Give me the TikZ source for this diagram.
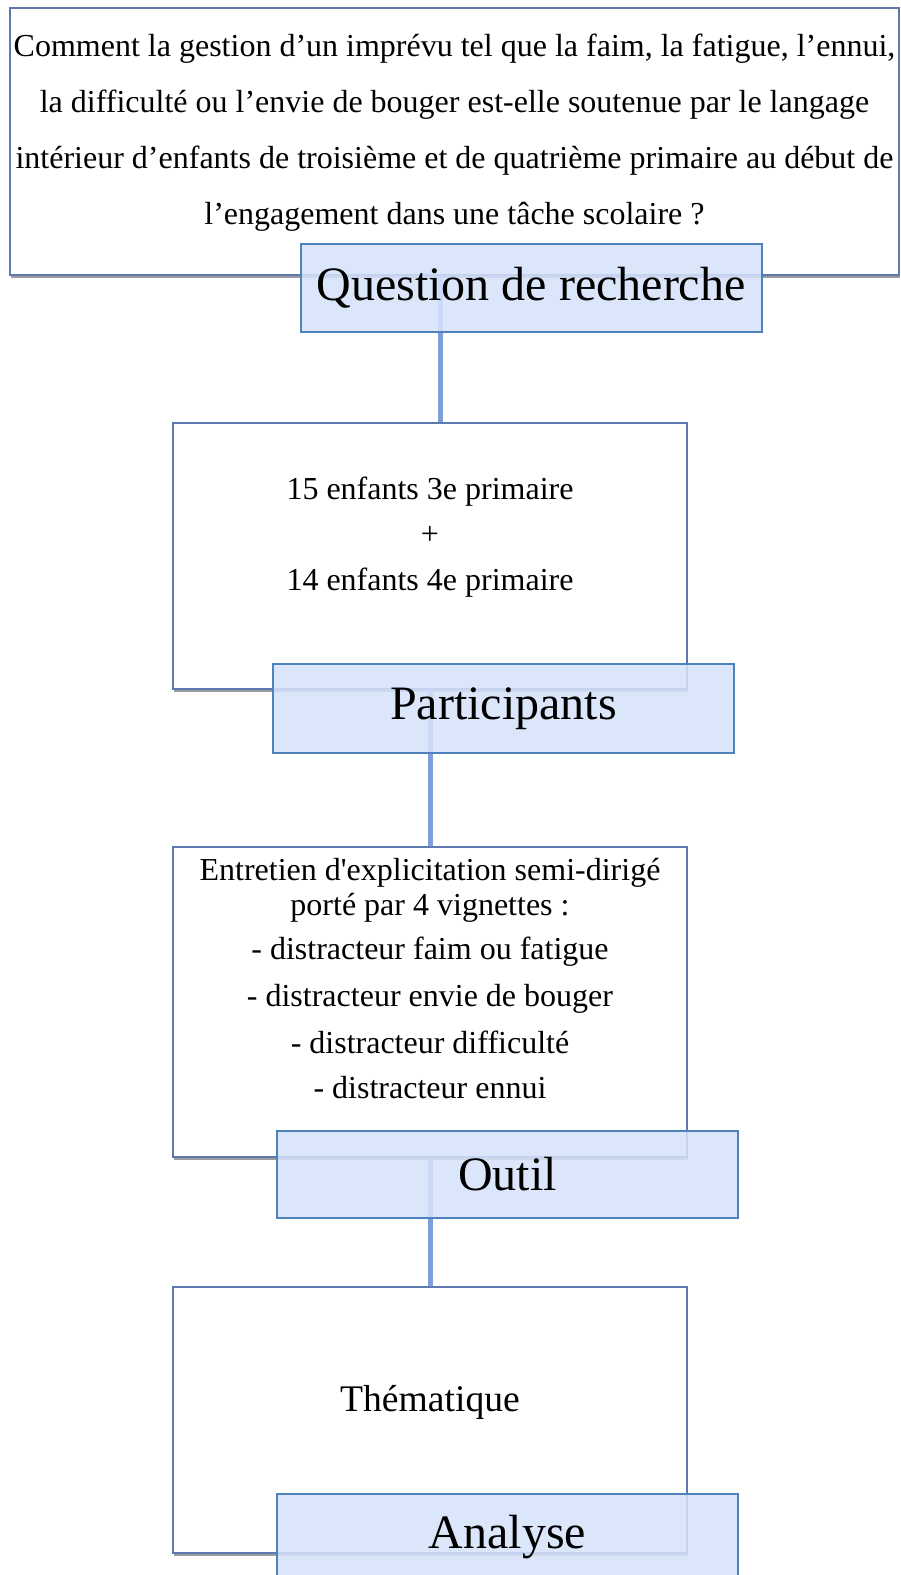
\documentclass[tikz,border=0pt]{standalone}
\usepackage{fontspec}
\newfontfamily\bodyfont{Liberation Serif}
\usetikzlibrary{shadows}
\definecolor{framecol}{RGB}{92,122,176}
\definecolor{tabfill}{RGB}{214,227,251}
\definecolor{tabdraw}{RGB}{79,129,189}
\definecolor{linkcol}{RGB}{126,160,218}
\begin{document}
\begin{tikzpicture}[x=0.5pt,y=-0.5pt,
  panel/.style={draw=framecol, line width=1.1pt, fill=white, inner sep=0pt,
    minimum width=257pt,
    drop shadow={shadow xshift=0.6pt, shadow yshift=-1.6pt, opacity=0.55, fill=black!70}},
  tab/.style={draw=tabdraw, line width=1pt, fill=tabfill, fill opacity=0.86, text opacity=1,
    minimum width=230.5pt, minimum height=44pt, inner sep=0pt,
    font=\bodyfont\fontsize{24}{28}\selectfont},
  txt/.style={inner sep=0pt, align=center},
  link/.style={draw=linkcol, line width=2.5pt}]
\useasboundingbox (0,0) rectangle (900,1575);
\fill[white] (0,0) rectangle (900,1575);

% frames
\node[panel, minimum width=444.5pt, minimum height=133.5pt] (qbox) at (454.5,141.5) {};
\node[panel, minimum height=133pt] (partbox) at (430,556) {};
\node[panel, minimum height=155pt] (toolbox) at (430,1002) {};
\node[panel, minimum height=133pt] (anabox) at (430,1420) {};

% frame contents
\node[txt, font=\bodyfont\fontsize{16}{28}\selectfont] (qtext) at (454.5,133)
  {Comment la gestion d’un imprévu tel que la faim, la fatigue, l’ennui,\\
   la difficulté ou l’envie de bouger est-elle soutenue par le langage\\
   intérieur d’enfants de troisième et de quatrième primaire au début de\\
   l’engagement dans une tâche scolaire ?};
\node[txt, font=\bodyfont\fontsize{16}{22.75}\selectfont] (parttext) at (430,537)
  {15 enfants 3e primaire\\+\\14 enfants 4e primaire};
\node[txt, font=\bodyfont\fontsize{16}{17.5}\selectfont] (tooltext) at (430,979)
  {Entretien d'explicitation semi-dirigé\\
   porté par 4 vignettes :\\[4.5pt]
   - distracteur faim ou fatigue\\[6pt]
   - distracteur envie de bouger\\[6pt]
   - distracteur difficulté\\[5pt]
   - distracteur ennui};
\node[txt, font=\bodyfont\fontsize{18.8}{22}\selectfont] (anatext) at (430,1402) {Thématique};

% connectors
\draw[link] ([xshift=5pt]partbox.north) -- ([xshift=5pt]partbox.north |- qbox.south);
\draw[link] (toolbox.north) -- (toolbox.north |- partbox.south);
\draw[link] (anabox.north) -- (anabox.north |- toolbox.south);

% title tabs
\node[tab] (qtab) at (531,288) {Question de recherche};
\node[tab, minimum height=44.5pt] (parttab) at (503.5,708.5) {Participants};
\node[tab, minimum height=43.5pt] (tooltab) at (507.5,1174.5) {Outil};
\node[tab, minimum height=43.5pt] (anatab) at (507.5,1537.5) {Analyse};
\end{tikzpicture}
\end{document}
